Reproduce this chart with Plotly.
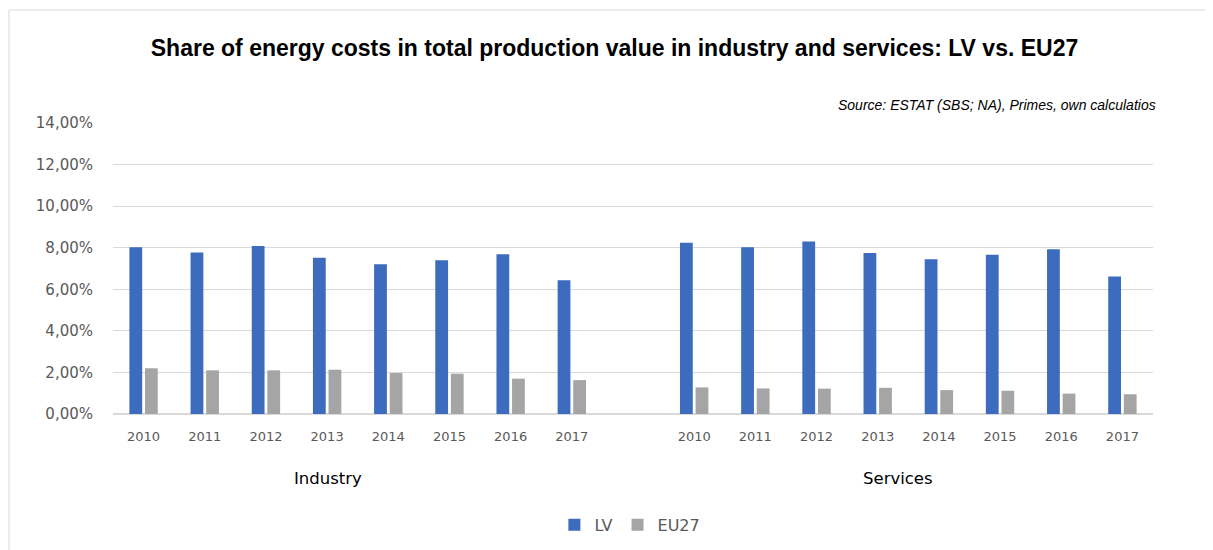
import plotly.graph_objects as go

years = ["2010", "2011", "2012", "2013", "2014", "2015", "2016", "2017"]
sectors = ["Industry", "Services"]
lv_industry = [0.0802, 0.0777, 0.0808, 0.0752, 0.0721, 0.0740, 0.0768, 0.0644]
eu_industry = [0.0220, 0.0210, 0.0210, 0.0213, 0.0197, 0.0194, 0.0170, 0.0163]
lv_services = [0.0824, 0.0802, 0.0830, 0.0774, 0.0745, 0.0766, 0.0793, 0.0662]
eu_services = [0.0128, 0.0123, 0.0122, 0.0126, 0.0115, 0.0112, 0.0098, 0.0095]

# positions: 8 industry categories, one blank slot, 8 services categories
n = len(years)
x_ind = list(range(n))
x_srv = [n + 1 + i for i in range(n)]
xs = x_ind + x_srv

BLUE = "#3D6BBD"
GREY = "#A5A5A5"
FONT = "DejaVu Sans, Open Sans"

fig = go.Figure()
fig.add_trace(go.Bar(x=xs, y=lv_industry + lv_services, name="LV",
                     marker=dict(color=BLUE, line=dict(width=0))))
fig.add_trace(go.Bar(x=xs, y=eu_industry + eu_services, name="EU27",
                     marker=dict(color=GREY, line=dict(width=0))))

fig.update_layout(
    width=1213, height=550,
    paper_bgcolor="white", plot_bgcolor="white",
    separators=", ",
    barmode="group", bargap=0.49, bargroupgap=0.18,
    margin=dict(l=105, r=68, t=115, b=144),
    title=dict(text="<b>Share of energy costs in total production value in industry and services: LV vs. EU27</b>",
               x=0.5, xanchor="center", y=0.927, yanchor="middle",
               font=dict(family="Liberation Sans, Arial", size=23, color="#000000")),
    showlegend=True,
    legend=dict(orientation="h", x=0.497, xanchor="center", y=-0.381, yanchor="middle",
                font=dict(family=FONT, size=16, color="#595959"),
                itemwidth=30, traceorder="normal"),
    font=dict(family=FONT, color="#595959"),
)

fig.update_yaxes(range=[0, 0.14], dtick=0.02, tickformat=".2%",
                 showgrid=True, gridcolor="#D9D9D9", gridwidth=1,
                 zeroline=True, zerolinecolor="#D9D9D9", showline=False,
                 tickfont=dict(family=FONT, size=15, color="#595959"),
                 ticks="", ticklabelstandoff=19)

fig.update_xaxes(range=[-0.5, 2 * n + 0.5], tickmode="array",
                 tickvals=xs, ticktext=years + years,
                 tickfont=dict(family=FONT, size=13, color="#595959"),
                 ticklabelstandoff=13,
                 showgrid=False, zeroline=False, showline=False, ticks="")

# sector group labels
fig.add_annotation(x=0.2067, y=-0.22, xref="paper", yref="paper",
                   text=sectors[0], showarrow=False, xanchor="center", yanchor="middle",
                   font=dict(family=FONT, size=16.5, color="#000000"))
fig.add_annotation(x=0.7548, y=-0.22, xref="paper", yref="paper",
                   text=sectors[1], showarrow=False, xanchor="center", yanchor="middle",
                   font=dict(family=FONT, size=16.5, color="#000000"))

# source note
fig.add_annotation(x=1.0048, y=1.062, xref="paper", yref="paper", xanchor="right",
                   yanchor="middle", showarrow=False,
                   text="<i>Source: ESTAT (SBS; NA), Primes, own calculatios</i>",
                   font=dict(family="Liberation Sans, Arial", size=14, color="#000000"))

# chart frame
fig.add_shape(type="rect", xref="paper", yref="paper",
              x0=-0.1, x1=1.2, y0=-0.8, y1=1.388,
              line=dict(color="#D9D9D9", width=1), layer="below")

fig.write_html("out.html")
